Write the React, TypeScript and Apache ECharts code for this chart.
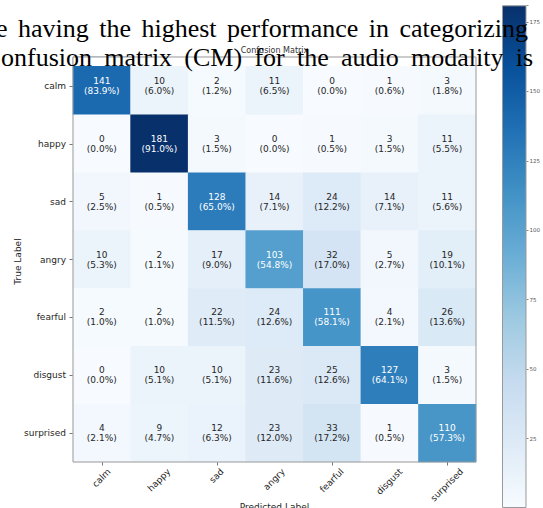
import React, { useEffect, useRef } from "react";
import * as echarts from "echarts";

// ---------- data ----------
const classes = ["calm", "happy", "sad", "angry", "fearful", "disgust", "surprised"];
const calmRow = [141, 10, 2, 11, 0, 1, 3];
const happyRow = [0, 181, 3, 0, 1, 3, 11];
const sadRow = [5, 1, 128, 14, 24, 14, 11];
const angryRow = [10, 2, 17, 103, 32, 5, 19];
const fearfulRow = [2, 2, 22, 24, 111, 4, 26];
const disgustRow = [0, 10, 10, 23, 25, 127, 3];
const surprisedRow = [4, 9, 12, 23, 33, 1, 110];
const rows = [calmRow, happyRow, sadRow, angryRow, fearfulRow, disgustRow, surprisedRow];
const colorMin = 0;
const colorMax = 181;
const colorbarTicks = [25, 50, 75, 100, 125, 150, 175];
const chartTitle = "Confusion Matrix";
const xName = "Predicted Label";
const yName = "True Label";
const paperLine1 = ["e", "having", "the", "highest", "performance", "in", "categorizing"];
const paperLine2 = ["onfusion", "matrix", "(CM)", "for", "the", "audio", "modality", "is"];

// ---------- styles / layout ----------
const BLUES = ["#f7fbff", "#deebf7", "#c6dbef", "#9ecae1", "#6baed6", "#4292c6", "#2171b5", "#08519c", "#08306b"];
const FONT = "DejaVu Sans";
const SERIF = "Liberation Serif";
const G = { left: 73, top: 57, width: 403, height: 405 };
const CB = { left: 502, top: 5.3, width: 25, height: 505.2 };
const PAPER_SIZE = 26;
const LINE1 = { start: -4, end: 528, baseline: 37 };
const LINE2 = { start: 1, end: 533, baseline: 66.5 };

export default function App() {
  const ref = useRef<HTMLDivElement>(null);

  useEffect(() => {
    const el = ref.current!;
    const chart = echarts.init(el, null, { renderer: "svg" });

    const data: any[] = [];
    rows.forEach((row, r) => {
      const sum = row.reduce((a, b) => a + b, 0);
      row.forEach((v, c) => {
        data.push({
          value: [c, r, v],
          pct: ((v / sum) * 100).toFixed(1),
          label: { color: v > colorMax / 2 ? "#ffffff" : "#262626" },
        });
      });
    });

    const option: any = {
      animation: false,
      backgroundColor: "#ffffff",
      grid: [
        { left: G.left, top: G.top, width: G.width, height: G.height },
        { left: CB.left, top: CB.top, width: CB.width, height: CB.height },
      ],
      xAxis: [
        {
          type: "category",
          data: classes,
          gridIndex: 0,
          axisLine: { show: false },
          axisTick: { show: true, alignWithLabel: true, length: 3.5, lineStyle: { color: "#777" } },
          axisLabel: { show: false },
          splitLine: { show: false },
        },
        { type: "category", data: ["cb"], gridIndex: 1, show: false },
      ],
      yAxis: [
        {
          type: "category",
          data: classes,
          inverse: true,
          gridIndex: 0,
          axisLine: { show: false },
          axisTick: { show: true, alignWithLabel: true, length: 3.5, lineStyle: { color: "#777" } },
          axisLabel: { fontFamily: FONT, fontSize: 9, color: "#262626", margin: 7 },
          splitLine: { show: false },
        },
        {
          type: "value",
          gridIndex: 1,
          min: colorMin,
          max: colorMax,
          interval: 25,
          position: "right",
          axisLine: { show: false },
          axisTick: { show: true, length: 2, lineStyle: { color: "#888" } },
          axisLabel: {
            fontFamily: FONT,
            fontSize: 5.5,
            color: "#555",
            margin: 3,
            formatter: (v: number) => (colorbarTicks.includes(v) ? String(v) : ""),
          },
          splitLine: { show: false },
        },
      ],
      visualMap: {
        show: false,
        type: "continuous",
        min: colorMin,
        max: colorMax,
        seriesIndex: 0,
        inRange: { color: BLUES },
      },
      series: [
        {
          type: "heatmap",
          xAxisIndex: 0,
          yAxisIndex: 0,
          data,
          label: {
            show: true,
            fontFamily: FONT,
            fontSize: 9,
            lineHeight: 10,
            formatter: (p: any) => `${p.data.value[2]}\n(${p.data.pct}%)`,
          },
          emphasis: { disabled: true },
        },
        {
          type: "bar",
          xAxisIndex: 1,
          yAxisIndex: 1,
          data: [colorMax],
          barWidth: "100%",
          silent: true,
          itemStyle: {
            color: new echarts.graphic.LinearGradient(
              0, 1, 0, 0,
              BLUES.map((c, i) => ({ offset: i / (BLUES.length - 1), color: c }))
            ),
            borderColor: "#999",
            borderWidth: 1,
          },
        },
      ],
    };
    chart.setOption(option);

    const ctx = document.createElement("canvas").getContext("2d")!;
    const graphic: any[] = [];

    // matplotlib-like centred rotated x tick labels
    ctx.font = `9px '${FONT}'`;
    const h = 10;
    classes.forEach((c, i) => {
      const [px] = chart.convertToPixel({ gridIndex: 0 }, [i, 0]) as number[];
      const w = ctx.measureText(c).width;
      graphic.push({
        type: "text",
        x: px + 0.354 * (w - h),
        y: G.top + G.height + 5,
        rotation: Math.PI / 4,
        z: 30,
        style: { text: c, fontFamily: FONT, fontSize: 9, fill: "#262626", align: "right", verticalAlign: "top" },
      });
    });
    // axis names
    graphic.push({
      type: "text",
      x: G.left + G.width / 2,
      y: 502,
      z: 30,
      style: { text: xName, fontFamily: FONT, fontSize: 9, fill: "#262626", align: "center", verticalAlign: "top" },
    });
    graphic.push({
      type: "text",
      x: 18,
      y: G.top + G.height / 2 + 2,
      rotation: Math.PI / 2,
      z: 30,
      style: { text: yName, fontFamily: FONT, fontSize: 9, fill: "#262626", align: "center", verticalAlign: "middle" },
    });
    // title
    graphic.push({
      type: "text",
      x: G.left + G.width / 2,
      y: 50,
      z: 30,
      style: { text: chartTitle, fontFamily: FONT, fontSize: 8, fill: "#333", align: "center", verticalAlign: "middle" },
    });
    // white band from the overlaid page
    graphic.push({
      type: "rect",
      z: 40,
      shape: { x: G.left, y: G.top, width: G.width, height: 9 },
      style: { fill: "#ffffff" },
    });
    // axes frame
    graphic.push({
      type: "rect",
      z: 50,
      shape: { x: G.left, y: G.top, width: G.width, height: G.height },
      style: { fill: "none", stroke: "#999", lineWidth: 1 },
    });
    // overlaid page text, justified
    ctx.font = `${PAPER_SIZE}px '${SERIF}'`;
    const placeLine = (words: string[], line: { start: number; end: number; baseline: number }) => {
      const widths = words.map((wd) => ctx.measureText(wd).width);
      const total = widths.reduce((a, b) => a + b, 0);
      const gap = (line.end - line.start - total) / (words.length - 1);
      let x = line.start;
      words.forEach((wd, i) => {
        graphic.push({
          type: "text",
          x,
          y: line.baseline - 0.3375 * PAPER_SIZE,
          z: 100,
          style: { text: wd, fontFamily: SERIF, fontSize: PAPER_SIZE, fill: "#000", align: "left", verticalAlign: "middle" },
        });
        x += widths[i] + gap;
      });
    };
    placeLine(paperLine1, LINE1);
    placeLine(paperLine2, LINE2);

    chart.setOption({ graphic });

    return () => chart.dispose();
  }, []);

  return (
    <div
      ref={ref}
      style={{ position: "absolute", left: 0, top: 0, width: 543, height: 508, background: "#fff" }}
    />
  );
}
